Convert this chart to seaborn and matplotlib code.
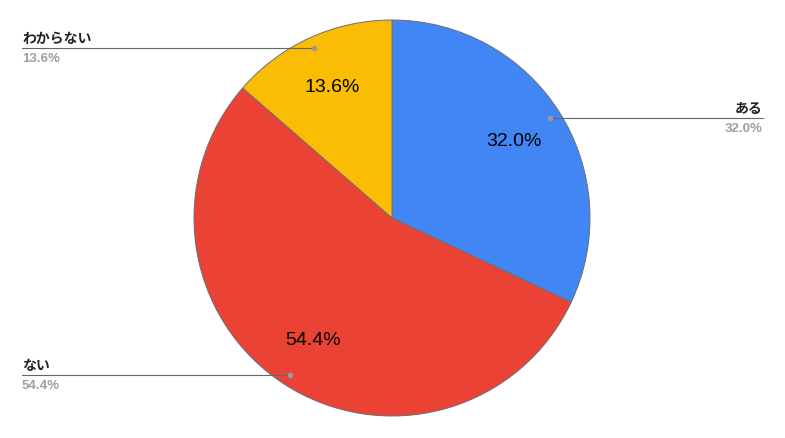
import numpy as np
import matplotlib
matplotlib.use("Agg")
import matplotlib.pyplot as plt
import seaborn as sns

labels = ["ある", "ない", "わからない"]
values = [32.0, 54.4, 13.6]
colors = ["#4285F4", "#EA4335", "#FBBC04"]

sns.set_style("white")
plt.rcParams['font.family'] = ['Noto Sans CJK JP', 'DejaVu Sans']
palette = sns.color_palette(colors)

fig = plt.figure(figsize=(7.85, 4.39), dpi=100)
ax = fig.add_axes([0, 0, 1, 1])

cx, cy, r = 392, 220, 198
wedges, texts, autotexts = ax.pie(
    values, colors=palette, startangle=90, counterclock=False,
    center=(cx, cy), radius=r, autopct="%.1f%%", pctdistance=0.73,
    wedgeprops=dict(edgecolor="#6f6f6f", linewidth=0.7),
    textprops=dict(fontsize=14, color="black", family=["Liberation Sans", "DejaVu Sans"]))
ax.set_xlim(0, 785)
ax.set_ylim(0, 439)
ax.set_aspect("equal")
ax.axis("off")

# ラベルと引き出し線
total = sum(values)
cum = 0
label_pos = {"ある": ("right", 763), "ない": ("left", 22), "わからない": ("left", 22)}
for lab, v in zip(labels, values):
    mid = 90 - (cum + v / 2) / total * 360
    cum += v
    px = cx + 0.945 * r * np.cos(np.radians(mid))
    py = cy + 0.945 * r * np.sin(np.radians(mid))
    side, lx = label_pos[lab]
    ax.plot([lx, px], [py, py], color="#666666", lw=0.8, zorder=3)
    ax.plot(px, py, "o", color="#999999", ms=3, zorder=4)
    ha = "right" if side == "right" else "left"
    ax.text(lx, py + 3, lab, ha=ha, va="bottom", fontsize=10, fontweight="bold", color="#222222")
    ax.text(lx, py - 4, f"{v:.1f}%", ha=ha, va="top", fontsize=9.5, fontweight="bold",
            color="#9e9e9e", family=["Liberation Sans", "DejaVu Sans"])

fig.savefig("out.png", dpi=100)
